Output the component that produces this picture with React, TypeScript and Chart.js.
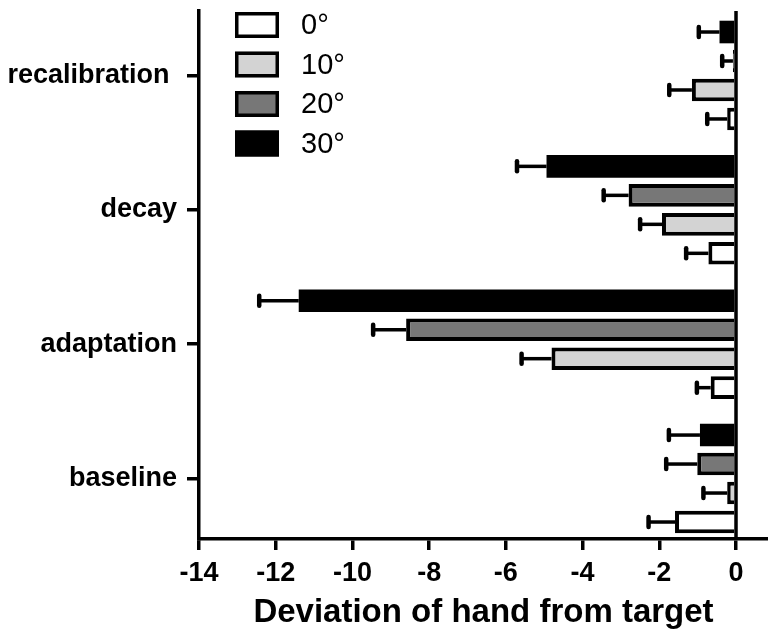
import React, { useEffect, useRef } from 'react';
import { Chart, registerables } from 'chart.js';

Chart.register(...registerables);

// Categories (bottom to top) and their positions on the index axis
const categories = ['baseline', 'adaptation', 'decay', 'recalibration '];
const categoryIndex = [0, 1, 2, 3];

// Series
const seriesLabels = ['0°', '10°', '20°', '30°'];
const seriesColors = ['#ffffff', '#d3d3d3', '#777777', '#000000'];

const values0 = [-1.59, -0.66, -0.72, -0.23];
const errors0 = [0.69, 0.36, 0.58, 0.52];
const values10 = [-0.23, -4.81, -1.93, -1.15];
const errors10 = [0.62, 0.78, 0.57, 0.59];
const values20 = [-1.01, -8.6, -2.8, -0.08];
const errors20 = [0.81, 0.86, 0.65, 0.28];
const values30 = [-0.94, -11.4, -4.94, -0.43];
const errors30 = [0.81, 1.03, 0.77, 0.54];

const xTickValues = [-14, -12, -10, -8, -6, -4, -2, 0];

const seriesValues = [values0, values10, values20, values30];
const seriesErrors = [errors0, errors10, errors20, errors30];

const FONT = '"Liberation Sans", Arial, Helvetica, sans-serif';

export default function App() {
  const ref = useRef<HTMLCanvasElement>(null);

  useEffect(() => {
    if (!ref.current) return;
    // dataset 0 is drawn at top of each group -> 30° first
    const order = [3, 2, 1, 0];
    const datasets = order.map((s) => ({
      label: seriesLabels[s],
      data: categoryIndex.map((y, i) => ({ x: seriesValues[s][i], y })),
      backgroundColor: seriesColors[s],
      borderColor: '#000000',
      borderWidth: seriesColors[s] === '#000000' ? 0 : 4,
      categoryPercentage: 0.863,
      barPercentage: 0.78,
      errors: seriesErrors[s],
    }));

    const errorBarPlugin = {
      id: 'errorBars',
      afterDatasetsDraw(chart: any) {
        const { ctx, chartArea } = chart;
        const xs = chart.scales.x;
        ctx.save();
        ctx.strokeStyle = '#000';
        chart.data.datasets.forEach((ds: any, di: number) => {
          const meta = chart.getDatasetMeta(di);
          meta.data.forEach((el: any, i: number) => {
            const v = ds.data[i].x;
            const e = ds.errors[i];
            const x0 = el.x;
            const x1 = xs.getPixelForValue(v - e);
            const y = el.y;
            ctx.lineWidth = 3.5;
            ctx.lineCap = 'butt';
            ctx.beginPath();
            ctx.moveTo(x0, y);
            ctx.lineTo(x1, y);
            ctx.stroke();
            ctx.lineWidth = 4.5;
            ctx.lineCap = 'round';
            ctx.beginPath();
            ctx.moveTo(x1, y - 5);
            ctx.lineTo(x1, y + 5);
            ctx.stroke();
          });
        });
        const zx = xs.getPixelForValue(0);
        ctx.lineWidth = 3.5;
        ctx.lineCap = 'butt';
        ctx.beginPath();
        ctx.moveTo(zx, chartArea.top);
        ctx.lineTo(zx, chartArea.bottom);
        ctx.stroke();
        ctx.restore();
      },
    };

    const legendPlugin = {
      id: 'insideLegend',
      afterDraw(chart: any) {
        const { ctx } = chart;
        ctx.save();
        seriesLabels.forEach((lab, s) => {
          const cy = 25 + s * 39.5;
          const bx = 235;
          const bw = 44;
          const bh = 26;
          ctx.fillStyle = seriesColors[s];
          ctx.fillRect(bx, cy - bh / 2, bw, bh);
          ctx.strokeStyle = '#000';
          ctx.lineWidth = 3.5;
          ctx.strokeRect(bx + 1.75, cy - bh / 2 + 1.75, bw - 3.5, bh - 3.5);
          ctx.fillStyle = '#000';
          ctx.font = `29px ${FONT}`;
          ctx.textBaseline = 'middle';
          ctx.textAlign = 'left';
          ctx.fillText(lab, 301, cy + 1);
        });
        ctx.restore();
      },
    };

    const chart = new Chart(ref.current, {
      type: 'bar',
      data: { datasets: datasets as any },
      options: {
        indexAxis: 'y',
        animation: false,
        responsive: false,
        layout: { padding: { top: 11, right: 0, bottom: 0, left: 0 } },
        plugins: { legend: { display: false }, tooltip: { enabled: false } },
        scales: {
          x: {
            type: 'linear',
            min: -14,
            max: 0.834,
            afterBuildTicks: (s: any) => {
              s.ticks = xTickValues.map((v) => ({ value: v }));
            },
            afterFit: (s: any) => {
              s.height = 100;
              s.paddingLeft = 0;
              s.paddingRight = 0;
            },
            grid: {
              display: true,
              drawOnChartArea: false,
              drawTicks: true,
              tickLength: 11,
              tickWidth: 3.5,
              tickColor: '#000',
              lineWidth: 3.5,
              color: '#000',
            },
            border: { display: true, color: '#000', width: 3.5 },
            ticks: {
              color: '#000',
              font: { family: FONT, size: 27, weight: 'bold' },
              padding: 7,
              maxRotation: 0,
              autoSkip: false,
            },
            title: {
              display: true,
              text: 'Deviation of hand from target',
              color: '#000',
              font: { family: FONT, size: 33, weight: 'bold', lineHeight: 1.2 },
              padding: { top: 0, bottom: 6 },
            },
          },
          y: {
            type: 'linear',
            min: -0.45,
            max: 3.48,
            offset: false,
            afterBuildTicks: (s: any) => {
              s.ticks = categoryIndex.map((v) => ({ value: v }));
            },
            afterFit: (s: any) => {
              s.width = 199;
              s.paddingTop = 0;
              s.paddingBottom = 0;
            },
            grid: {
              offset: false,
              display: true,
              drawOnChartArea: false,
              drawTicks: true,
              tickLength: 12,
              tickWidth: 3.5,
              tickColor: '#000',
              lineWidth: 3.5,
              color: '#000',
            },
            border: { display: true, color: '#000', width: 3.5 },
            ticks: {
              color: '#000',
              font: { family: FONT, size: 27, weight: 'bold' },
              padding: 10,
              autoSkip: false,
              callback: (v: any) => categories[Math.round(Number(v))] ?? '',
            },
          },
        },
      } as any,
      plugins: [errorBarPlugin, legendPlugin],
    });
    return () => chart.destroy();
  }, []);

  return (
    <div style={{ position: 'absolute', left: 0, top: 0, width: 768, height: 639, background: '#fff' }}>
      <canvas ref={ref} width={768} height={639} style={{ display: 'block' }} />
    </div>
  );
}
